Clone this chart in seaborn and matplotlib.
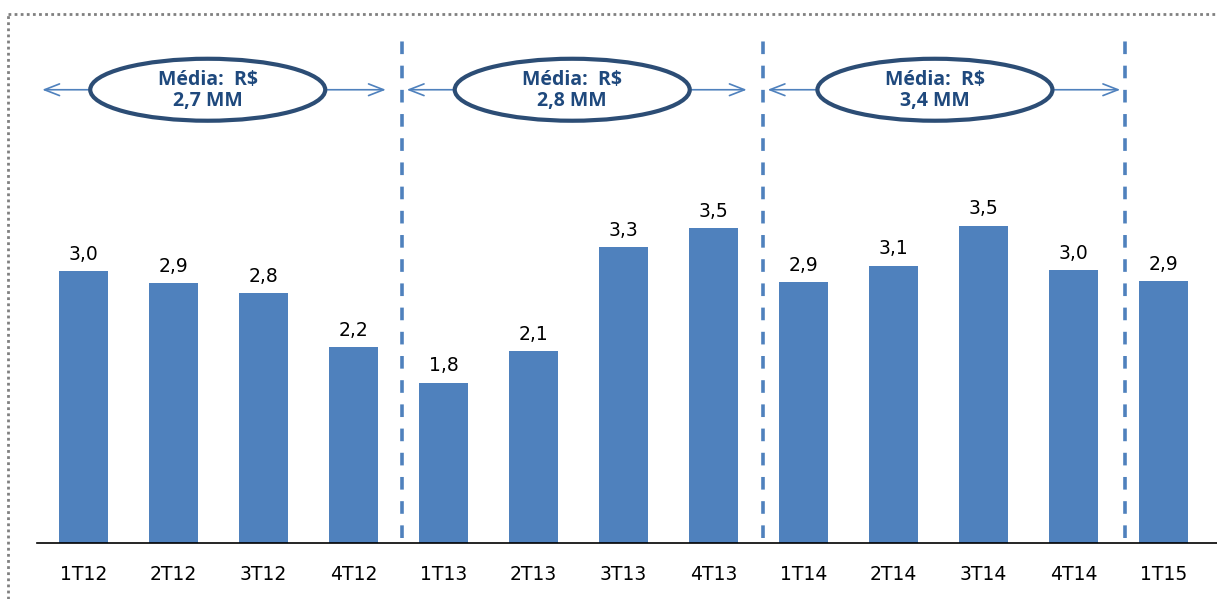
import matplotlib
matplotlib.use("Agg")
import matplotlib.pyplot as plt
from matplotlib.patches import Ellipse
import seaborn as sns
import pandas as pd

categories = ["1T12", "2T12", "3T12", "4T12", "1T13", "2T13", "3T13", "4T13",
              "1T14", "2T14", "3T14", "4T14", "1T15"]
values = [3.00, 2.87, 2.76, 2.16, 1.77, 2.12, 3.26, 3.47, 2.88, 3.06, 3.50, 3.01, 2.89]
period_labels = ["Média:  R$\n2,7 MM", "Média:  R$\n2,8 MM", "Média:  R$\n3,4 MM"]
period_centers = [1.38, 5.43, 9.46]
separators = [3.54, 7.55, 11.57]

sns.set_theme(style="white")
plt.rcParams['font.family'] = ['DejaVu Sans']

bar_color = "#4F81BD"
dark_blue = "#2C4D75"
text_blue = "#1F497D"

fig = plt.figure(figsize=(12.17, 5.99), dpi=100)
ax = fig.add_axes([37 / 1217, 56 / 599, 1 - 37 / 1217, 543 / 599])

df = pd.DataFrame({"cat": categories, "val": values})
sns.barplot(data=df, x="cat", y="val", order=categories, color=bar_color,
            saturation=1, width=0.545, ax=ax, edgecolor="none")

ax.set_xlim(-0.517, 12.594)
ax.set_ylim(0, 5.99)
ax.set_xlabel("")
ax.set_ylabel("")
ax.set_yticks([])
ax.tick_params(axis="x", length=0, pad=16, labelsize=13.5, labelcolor="black")
for s in ["top", "right", "left"]:
    ax.spines[s].set_visible(False)
ax.spines["bottom"].set_color("black")
ax.spines["bottom"].set_linewidth(1.2)

# value labels
for i, v in enumerate(values):
    ax.text(i, v + 0.08, f"{v:.1f}".replace(".", ","), ha="center", va="bottom",
            fontsize=13.5, color="black")

# dashed separators
for sx in separators:
    ax.plot([sx, sx], [0.05, 5.55], color=bar_color, lw=2.6,
            dashes=(3.5, 3.2), clip_on=False)

# period arrows and ellipses
starts = [-0.49] + separators[:2]
ends = [separators[0] - 0.15, separators[1] - 0.15, separators[2] - 0.02]
arrow_y = 5.0
for k, lab in enumerate(period_labels):
    cx = period_centers[k]
    x0 = starts[k] + (0.0 if k == 0 else 0.02)
    x1 = ends[k]
    for xe in (x0, x1):
        ax.annotate("", xy=(xe, arrow_y), xytext=(cx, arrow_y),
                    arrowprops=dict(arrowstyle="->,head_length=0.9,head_width=0.35",
                                    color=bar_color, lw=1.2))
    e = Ellipse((cx, arrow_y), width=235 / 90, height=62 / 90.7, facecolor="white",
                edgecolor=dark_blue, lw=3, zorder=5, clip_on=False)
    ax.add_patch(e)
    ax.text(cx, arrow_y - 0.01, lab, ha="center", va="center", fontsize=14,
            fontweight="bold", color=text_blue, zorder=6, linespacing=1.05,
            family=["Open Sans", "DejaVu Sans"])

# dotted frame (top and left)
fig.add_artist(plt.Line2D([8 / 1217, 1], [1 - 14 / 599, 1 - 14 / 599],
                          color="#808080", lw=2, dashes=(1, 1.2)))
fig.add_artist(plt.Line2D([8 / 1217, 8 / 1217], [0, 1 - 14 / 599],
                          color="#808080", lw=2, dashes=(1, 1.2)))

fig.savefig("out.png", dpi=100)
